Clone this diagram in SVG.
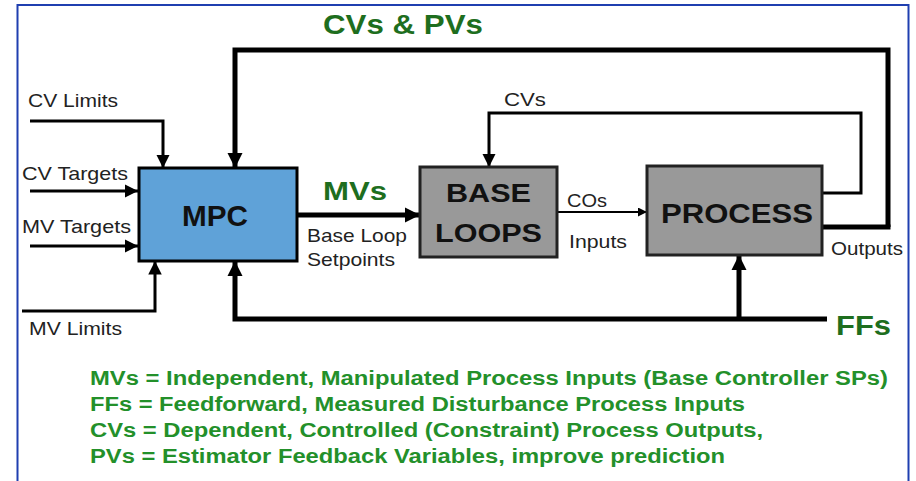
<svg xmlns="http://www.w3.org/2000/svg" width="916" height="481" viewBox="0 0 916 481">
<defs>
<style>
.lbl{font-family:"Liberation Sans",Arial,sans-serif;font-size:19px;fill:#222}
.box{font-family:"Liberation Sans",Arial,sans-serif;font-weight:bold;fill:#111}
.grn{font-family:"Liberation Sans",Arial,sans-serif;font-weight:bold;fill:#1e6e1e}
.leg{font-family:"Liberation Sans",Arial,sans-serif;font-weight:bold;font-size:20px;fill:#23902a}
.thick{fill:none;stroke:#000;stroke-width:5}
.thin{fill:none;stroke:#000;stroke-width:3}
.fine{fill:none;stroke:#000;stroke-width:2}
</style>
<marker id="ah" viewBox="0 0 10 10" refX="10" refY="5" markerWidth="3" markerHeight="3.2" orient="auto" markerUnits="strokeWidth"><path d="M0,0 L10,5 L0,10 z" fill="#000"/></marker>
<marker id="ahs" viewBox="0 0 10 10" refX="10" refY="5" markerWidth="4.5" markerHeight="4.5" orient="auto" markerUnits="strokeWidth"><path d="M0,0 L10,5 L0,10 z" fill="#000"/></marker>
</defs>
<rect x="0" y="0" width="916" height="481" fill="#fff"/>
<rect x="17.5" y="5" width="891" height="490" fill="none" stroke="#1f3fb0" stroke-width="2"/>

<g id="connectors">
<path class="thick" d="M888,227 V50 H235 V168" marker-end="url(#ah)"/>
<path class="thick" d="M822,227 H890.5"/>
<path class="thin" d="M822,193 H861 V113 H489 V167" marker-end="url(#ahs)"/>
<path class="thin" d="M30,121 H163 V168" marker-end="url(#ahs)"/>
<path class="thin" d="M30,191 H138" marker-end="url(#ahs)"/>
<path class="thin" d="M30,246 H138" marker-end="url(#ahs)"/>
<path class="thin" d="M22,311 H155 V261" marker-end="url(#ahs)"/>
<path class="thick" d="M297,215 H420" marker-end="url(#ah)"/>
<path class="fine" d="M557,212 H647" marker-end="url(#ahs)"/>
<path class="thick" d="M827,319 H235 V261" marker-end="url(#ah)"/>
<path class="thick" d="M739,319 V255" marker-end="url(#ah)"/>
</g>

<g id="mpc">
<rect x="139" y="168" width="158" height="93" fill="#5fa2d8" stroke="#000" stroke-width="3"/>
<text class="box" x="182" y="226" font-size="30" textLength="66" lengthAdjust="spacingAndGlyphs">MPC</text>
</g>
<g id="base-loops">
<rect x="420" y="167" width="137" height="90" fill="#999" stroke="#222" stroke-width="3"/>
<text class="box" x="446" y="202" font-size="26" textLength="85" lengthAdjust="spacingAndGlyphs">BASE</text>
<text class="box" x="435" y="242" font-size="26" textLength="107" lengthAdjust="spacingAndGlyphs">LOOPS</text>
</g>
<g id="process">
<rect x="647" y="166" width="175" height="89" fill="#999" stroke="#222" stroke-width="3"/>
<text class="box" x="661" y="223" font-size="28" textLength="152" lengthAdjust="spacingAndGlyphs">PROCESS</text>
</g>

<g id="labels">
<text class="grn" x="323" y="34" font-size="28" textLength="160" lengthAdjust="spacingAndGlyphs">CVs &amp; PVs</text>
<text class="lbl" x="504" y="106" textLength="42" lengthAdjust="spacingAndGlyphs">CVs</text>
<text class="lbl" x="28" y="107" textLength="90" lengthAdjust="spacingAndGlyphs">CV Limits</text>
<text class="lbl" x="22" y="180" textLength="106" lengthAdjust="spacingAndGlyphs">CV Targets</text>
<text class="lbl" x="22" y="233" textLength="109" lengthAdjust="spacingAndGlyphs">MV Targets</text>
<text class="lbl" x="29" y="335" textLength="93" lengthAdjust="spacingAndGlyphs">MV Limits</text>
<text class="grn" x="323" y="200" font-size="25" textLength="64" lengthAdjust="spacingAndGlyphs">MVs</text>
<text class="lbl" x="307" y="242" textLength="100" lengthAdjust="spacingAndGlyphs">Base Loop</text>
<text class="lbl" x="307" y="266" textLength="88" lengthAdjust="spacingAndGlyphs">Setpoints</text>
<text class="lbl" x="567" y="207" textLength="40" lengthAdjust="spacingAndGlyphs">COs</text>
<text class="lbl" x="569" y="248" textLength="58" lengthAdjust="spacingAndGlyphs">Inputs</text>
<text class="lbl" x="831" y="255" textLength="72" lengthAdjust="spacingAndGlyphs">Outputs</text>
<text class="grn" x="836" y="335" font-size="27" textLength="55" lengthAdjust="spacingAndGlyphs">FFs</text>
</g>

<g id="legend">
<text class="leg" x="90" y="385" textLength="798" lengthAdjust="spacingAndGlyphs">MVs = Independent, Manipulated Process Inputs (Base Controller SPs)</text>
<text class="leg" x="90" y="411" textLength="655" lengthAdjust="spacingAndGlyphs">FFs = Feedforward, Measured Disturbance Process Inputs</text>
<text class="leg" x="90" y="437" textLength="673" lengthAdjust="spacingAndGlyphs">CVs = Dependent, Controlled (Constraint) Process Outputs,</text>
<text class="leg" x="90" y="463" textLength="635" lengthAdjust="spacingAndGlyphs">PVs = Estimator Feedback Variables, improve prediction</text>
</g>
</svg>
